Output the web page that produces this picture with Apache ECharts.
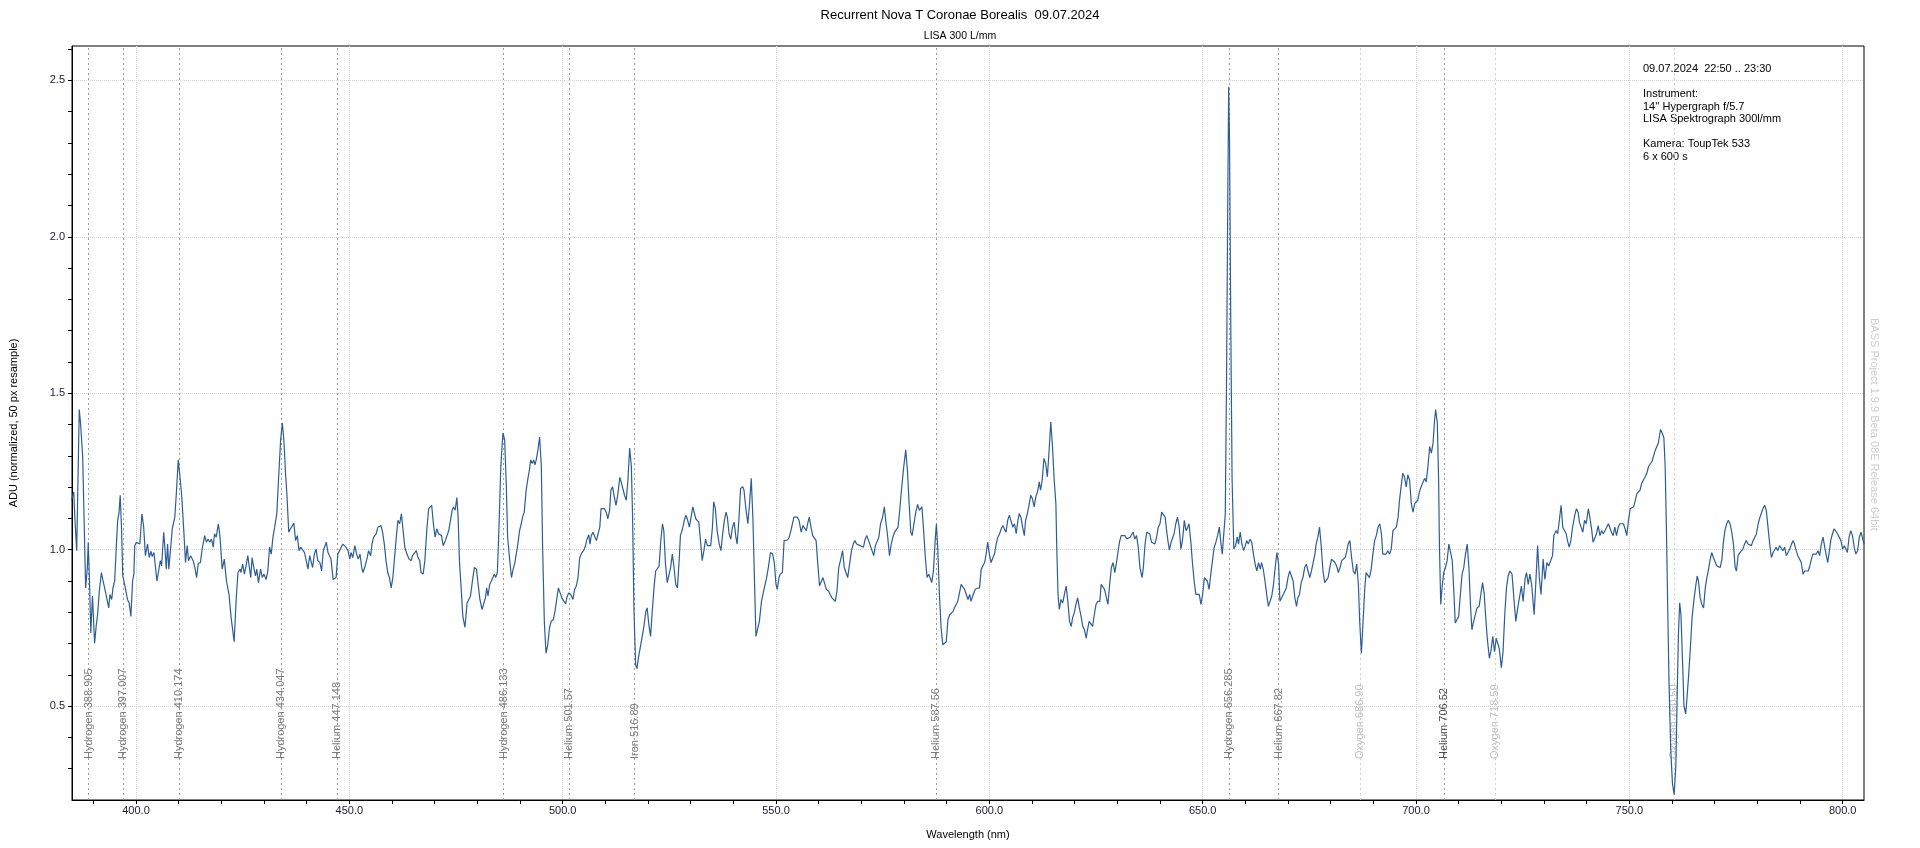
<!DOCTYPE html>
<html>
<head>
<meta charset="utf-8">
<title>Recurrent Nova T Coronae Borealis</title>
<script src="https://cdn.jsdelivr.net/npm/echarts@6/dist/echarts.min.js"></script>
<style>
  html, body { margin: 0; padding: 0; background: #fff; }
  #spectrum { width: 1920px; height: 848px; }
</style>
</head>
<body>
<div id="spectrum"></div>
<script>
// spectrum, [wavelength nm, ADU], one array per stretch
const spec385 = [
  [384.9,1.158],[385.4,1.185],[385.7,1.094],[386.1,0.997],[386.7,1.448],[387.0,1.405],[387.5,1.298],[388.2,0.878],
  [388.6,0.943],[388.8,1.024],[389.1,0.900],[389.4,0.733],[389.8,0.852],[390.3,0.701],[390.7,0.760],[391.0,0.792],
  [391.4,0.868],[391.9,0.927],[392.2,0.905],[392.5,0.911],[392.9,0.862],[393.3,0.857],[393.6,0.814],[393.9,0.857],
  [394.3,0.841],[394.6,0.878],[395.0,0.900],[395.3,0.986],[395.7,1.094],[396.0,1.115],[396.3,1.174],[396.6,1.072],
  [396.9,0.916],[397.2,0.911],[397.5,0.878],[398.0,0.841],[398.4,0.830],[398.8,0.787],[399.2,0.900],[399.5,0.922],
  [399.7,1.013],[400.1,1.024],[400.5,1.029],[400.9,1.018],[401.4,1.115],[401.8,1.072],[402.2,0.981],[402.7,1.018],
  [403.1,0.975],[403.5,0.995],[403.8,0.978],[404.2,0.991],[404.6,0.986],[404.9,0.900],[405.3,0.932],[405.7,0.965],
  [406.0,0.948],[406.5,1.056],[406.8,1.002],[407.1,0.938],[407.4,1.018],[407.7,0.938],[408.1,0.932],[408.5,1.067],
  [409.1,1.104],[409.5,1.190],[409.9,1.287],[410.3,1.233],[410.7,1.174],[411.2,1.061],[411.6,0.959],[412.0,1.013],
  [412.3,0.965],[412.8,0.981],[413.4,0.965],[413.8,0.943],[414.2,0.911],[414.6,0.956],[415.1,0.959],[415.5,1.002],
  [416.1,1.045],[416.5,1.024],[416.9,1.034],[417.3,1.024],[417.7,1.034],[418.1,1.008],[418.4,1.051],[418.8,1.040],
  [419.3,1.083],[419.7,1.040],[420.2,0.938],[420.7,0.970],[421.2,0.900],[421.8,0.857],[422.3,0.782],[423.0,0.706],
  [423.5,0.846],[423.9,0.927],[424.4,0.938],[424.6,0.927],[425.0,0.954],[425.4,0.922],[425.8,0.948],[426.2,0.981],
  [426.5,0.975],[426.9,0.911],[427.2,0.975],[427.6,0.943],[428.0,0.916],[428.3,0.938],[428.7,0.895],[429.2,0.938],
  [429.6,0.911],[430.0,0.922],[430.5,0.905],[430.9,0.932],[431.3,1.008],[431.7,0.986],[432.1,1.040],[432.5,1.072],
  [433.0,1.115],[433.4,1.223],[433.9,1.352],[434.3,1.405],[434.7,1.341],[435.0,1.255],[435.4,1.169],[435.8,1.056],
  [436.2,1.067],[436.6,1.072],[437.0,1.085],[437.4,1.029],[437.8,1.045],[438.2,0.997],[438.6,1.008],[439.0,1.013],
  [439.5,0.991],[439.9,0.986],[440.3,0.938],[440.7,0.981],[441.1,0.959],[441.4,0.943],[441.8,0.986],[442.2,1.002],
  [442.6,0.965],[443.1,0.959],[443.5,0.932],[443.9,0.997],[444.3,0.997],[444.6,1.024],[445.0,0.991],[445.3,0.986],
  [445.7,0.970],[446.2,0.905],[446.5,0.911],[446.9,0.911],[447.3,0.986],[447.7,0.997],[448.1,1.008],[448.5,1.018],
  [448.9,1.018],[449.2,1.008],[449.7,0.997],[450.1,0.970],[450.4,0.991],[450.8,0.975],[451.3,1.013],[451.7,0.986],
  [452.1,0.970],[452.5,0.986],[452.9,0.943],[453.2,0.927],[453.7,0.948],[454.2,0.975],[454.5,0.997],[455.0,0.981],
  [455.3,1.018],[455.7,1.040],[456.3,1.051],[456.7,1.072],[457.0,1.074],[457.4,1.077],[457.8,1.056],[458.2,1.018],
  [458.6,0.965],[459.0,0.927],[459.4,0.911],[459.8,0.878],[460.2,0.911],[460.6,0.975],[461.0,1.040],[461.4,1.094],
  [461.8,1.083],[462.2,1.115],[462.6,1.061],[463.0,1.008],[463.5,0.986],[464.0,0.970],[464.5,0.965],[464.8,0.981],
  [465.2,0.986],[465.7,0.997],[466.1,0.975],[466.5,0.965],[466.8,0.927],[467.3,0.922],[467.7,0.965],[468.2,1.072],
  [468.6,1.131],[469.0,1.137],[469.3,1.142]
]
const spec470 = [
  [469.7,1.083],[470.1,1.040],[470.5,1.067],[470.9,1.051],[471.3,1.053],[471.6,1.045],[472.0,1.013],[472.5,1.029],
  [472.9,1.045],[473.3,1.061],[473.7,1.067],[474.1,1.126],[474.4,1.137],[474.8,1.126],[475.2,1.167],[475.5,1.104],
  [475.8,0.965],[476.2,0.878],[476.6,0.787],[477.1,0.752],[477.6,0.830],[478.0,0.841],[478.4,0.852],[478.8,0.895],
  [479.3,0.943],[479.8,0.938],[480.1,0.900],[480.6,0.841],[481.1,0.809],[481.5,0.814],[481.9,0.846],[482.2,0.878],
  [482.5,0.852],[482.9,0.889],[483.3,0.900],[483.6,0.905],[484.0,0.922],[484.3,0.911],[484.7,0.927],[485.1,1.083],
  [485.5,1.266],[486.0,1.373],[486.4,1.352],[486.8,1.201],[487.1,1.040],[487.6,0.965],[488.0,0.911],[488.4,0.938],
  [488.8,0.959],[489.1,0.965],[489.5,1.018],[489.9,1.061],[490.3,1.083],[490.6,1.104],[491.0,1.120],[491.4,1.185],
  [491.8,1.223],[492.2,1.255],[492.5,1.287],[492.9,1.276],[493.2,1.287],[493.5,1.271],[493.8,1.287],[494.2,1.319],
  [494.6,1.360],[495.0,1.266],[495.3,1.008],[495.7,0.771],[496.1,0.669],[496.5,0.696],[496.9,0.749],[497.3,0.771],
  [497.8,0.776],[498.2,0.803],[498.6,0.841],[499.0,0.878],[499.4,0.862],[499.8,0.846],[500.3,0.835],[500.7,0.827],
  [501.0,0.848],[501.4,0.862],[501.9,0.857],[502.4,0.841],[502.8,0.873],[503.2,0.884],[503.6,0.911],[504.0,0.975],
  [504.4,0.988],[504.9,0.997],[505.3,1.010],[505.6,1.029],[506.1,1.048],[506.4,1.018],[506.7,1.045],[507.1,1.056],
  [507.5,1.061],[507.9,1.029],[508.3,1.031],[508.7,1.072],[509.0,1.131],[509.4,1.137],[509.8,1.131],[510.2,1.120],
  [510.6,1.099],[511.0,1.126],[511.3,1.190],[511.7,1.201],[512.1,1.169],[512.5,1.142],[512.9,1.174],[513.4,1.231],
  [513.8,1.212],[514.2,1.190],[514.5,1.174],[514.9,1.158],[515.3,1.223],[515.7,1.325],[516.1,1.266],[516.4,1.094],
  [516.7,0.814],[517.1,0.631],[517.4,0.620],[517.8,0.658],[518.3,0.696],[518.7,0.728],[519.1,0.760],[519.5,0.803],
  [519.8,0.814],[520.2,0.760],[520.6,0.723],[521.0,0.803],[521.4,0.878],[521.8,0.932],[522.2,0.938],[522.6,0.948],
  [523.0,1.029],[523.4,1.083],[523.7,1.061],[524.1,0.954],[524.5,0.895],[524.9,0.900],[525.3,0.943],[525.7,0.986],
  [526.1,0.943],[526.5,0.889],[526.9,0.878],[527.3,0.965],[527.6,1.045],[528.1,1.067],[528.5,1.094],[528.9,1.110],
  [529.3,1.094],[529.7,1.072],[530.1,1.072],[530.5,1.137],[530.8,1.131],[531.2,1.099],[531.6,1.104],[531.9,1.088],
  [532.3,1.029],[532.7,0.965],[533.1,0.997],[533.5,1.034],[533.9,1.013],[534.3,1.008],[534.7,1.013],[535.1,1.072],
  [535.4,1.153],[535.8,1.131],[536.2,1.061],[536.7,1.018],[537.1,0.997],[537.5,1.051],[537.9,1.094],[538.3,1.120],
  [538.6,1.104],[539.0,1.051],[539.4,1.034],[539.8,1.072],[540.2,1.088],[540.6,1.040],[540.9,1.018],[541.3,1.094],
  [541.7,1.196],[542.2,1.201],[542.5,1.190],[542.9,1.137],[543.4,1.083],[543.8,1.147],[544.2,1.228],[544.6,1.094],
  [545.0,0.878],[545.3,0.723],[545.7,0.717],[546.1,0.771],[546.6,0.835],[547.1,0.868],[547.5,0.862],[547.8,0.911],
  [548.2,0.943],[548.7,0.991],[549.2,0.986],[549.6,0.959],[550.0,0.889],[550.3,0.873],[550.7,0.911],[551.0,0.922],
  [551.5,0.927],[551.9,1.029],[552.3,1.034],[552.7,1.031],[553.1,1.040],[553.5,1.061]
]
const spec554 = [
  [554.2,1.104],[554.6,1.099],[555.0,1.104],[555.4,1.094],[555.9,1.056],[556.3,1.077],[556.7,1.072],[557.1,1.061],
  [557.5,1.088],[557.8,1.104],[558.2,1.072],[558.6,1.045],[559.0,1.051],[559.4,1.029],[559.8,0.954],[560.2,0.884],
  [560.6,0.889],[561.0,0.911],[561.3,0.911],[561.8,0.873],[562.3,0.868],[562.7,0.857],[563.1,0.846],[563.5,0.852],
  [563.9,0.835],[564.3,0.868],[564.7,0.943],[565.1,0.965],[565.6,0.997],[566.0,0.943],[566.4,0.938],[566.8,0.911],
  [567.2,0.905],[567.7,0.997],[568.1,1.018],[568.5,1.029],[568.9,1.018],[569.3,1.024],[569.7,1.013],[570.1,1.018],
  [570.5,1.008],[570.9,1.034],[571.3,1.045],[571.7,1.029],[572.1,1.013],[572.5,1.008],[572.9,0.981],[573.3,1.013],
  [573.7,1.013],[574.1,1.040],[574.5,1.083],[574.9,1.099],[575.4,1.137],[575.7,1.094],[576.1,1.051],[576.6,0.981],
  [577.0,1.018],[577.4,1.040],[577.8,1.056],[578.2,1.061],[578.6,1.072],[579.0,1.126],[579.4,1.190],[579.9,1.260],
  [580.4,1.319],[580.8,1.255],[581.2,1.147],[581.6,1.056],[581.9,1.045],[582.3,1.051],[582.7,1.115],[583.2,1.145],
  [583.6,1.126],[583.9,1.120],[584.2,1.137],[584.6,1.061],[585.0,0.975],[585.4,0.911],[585.8,0.922],[586.2,0.927],
  [586.5,0.895],[586.9,0.932],[587.3,1.029],[587.6,1.083],[587.9,1.008],[588.3,0.857],[588.7,0.749],[589.1,0.696],
  [589.5,0.690],[589.9,0.706],[590.3,0.776],[590.7,0.792],[591.1,0.798],[591.5,0.803],[591.8,0.814],[592.2,0.809],
  [592.6,0.835],[593.0,0.862],[593.4,0.889],[593.8,0.895],[594.2,0.873],[594.6,0.868],[595.0,0.841],[595.4,0.857],
  [595.7,0.835],[596.1,0.852],[596.5,0.868],[596.9,0.876],[597.3,0.870],[597.7,0.878],[598.1,0.938],[598.5,0.932],
  [598.9,0.959],[599.3,0.991],[599.6,1.024],[600.0,0.986],[600.4,0.959],[600.8,0.959],[601.2,0.986],[601.6,1.018],
  [602.0,1.040],[602.4,1.051],[602.8,1.067],[603.2,1.077],[603.5,1.067],[603.9,1.056],[604.3,1.094],[604.7,1.110],
  [605.1,1.104],[605.5,1.072],[605.9,1.083],[606.3,1.051],[606.7,1.094],[607.0,1.115],[607.4,1.104],[607.8,1.072],
  [608.2,1.045],[608.5,1.094],[608.9,1.115],[609.3,1.142],[609.7,1.174],[610.1,1.163],[610.5,1.137],[610.9,1.169],
  [611.3,1.185],[611.7,1.217],[612.0,1.190],[612.4,1.223],[612.8,1.292],[613.2,1.276],[613.6,1.233],[614.0,1.314],
  [614.4,1.408],[614.8,1.330],[615.2,1.223],[615.6,1.147],[615.8,1.008],[616.1,0.857],[616.4,0.809],[616.8,0.841],
  [617.2,0.830],[617.6,0.857],[618.0,0.884],[618.4,0.835],[618.8,0.771],[619.2,0.755],[619.5,0.782],[619.9,0.798],
  [620.3,0.825],[620.7,0.846],[621.1,0.814],[621.5,0.787],[621.9,0.755],[622.3,0.744],[622.7,0.717],[623.0,0.744],
  [623.4,0.771],[623.8,0.776],[624.2,0.755],[624.6,0.792],[625.0,0.825],[625.4,0.835],[625.9,0.835],[626.2,0.889],
  [626.6,0.895],[627.0,0.873],[627.4,0.868],[627.8,0.825],[628.2,0.889],[628.6,0.943],[629.0,0.959],[629.4,0.927],
  [629.8,0.959],[630.2,0.997],[630.5,1.024],[630.9,1.045],[631.3,1.051],[631.8,1.045],[632.2,1.034],[632.6,1.034],
  [633.0,1.040],[633.4,1.034],[633.7,1.056],[634.1,1.034],[634.5,1.045],[634.9,1.008],[635.3,0.943],[635.8,0.911],
  [636.1,0.943],[636.5,1.018],[636.9,1.056],[637.3,1.056]
]
const spec638 = [
  [637.6,1.051],[638.0,1.024],[638.4,1.018],[638.8,1.018],[639.2,1.040],[639.6,1.072],[640.0,1.083],[640.4,1.120],
  [640.8,1.126],[641.2,1.104],[641.5,1.067],[641.9,1.024],[642.2,0.999],[642.6,1.024],[643.0,1.040],[643.3,1.051],
  [643.7,1.083],[644.1,1.104],[644.5,1.072],[644.9,1.002],[645.3,1.034],[645.7,1.094],[646.1,1.061],[646.5,1.072],
  [646.8,1.083],[647.2,1.029],[647.6,0.959],[648.0,0.900],[648.4,0.857],[648.8,0.852],[649.2,0.857],[649.6,0.825],
  [650.0,0.857],[650.4,0.911],[650.7,0.905],[651.1,0.900],[651.5,0.873],[651.9,0.922],[652.3,0.965],[652.7,1.008],
  [653.1,1.024],[653.5,1.045],[653.9,1.072],[654.3,1.018],[654.6,0.986],[655.0,0.981],[655.3,1.115],[655.6,1.550],
  [655.9,2.150],[656.1,2.480],[656.3,2.300],[656.6,1.700],[656.9,1.223],[657.3,1.002],[657.7,1.013],[658.1,1.040],
  [658.4,1.018],[658.8,1.056],[659.2,1.018],[659.6,0.997],[660.0,1.013],[660.3,1.029],[660.7,1.018],[661.1,1.034],
  [661.5,1.024],[661.9,0.986],[662.3,0.954],[662.7,0.932],[663.1,0.959],[663.5,0.938],[663.8,0.959],[664.2,0.938],
  [664.6,0.900],[665.0,0.857],[665.4,0.819],[665.8,0.819],[666.2,0.852],[666.6,0.889],[667.0,0.943],[667.4,0.991],
  [667.8,0.954],[668.1,0.835],[668.5,0.830],[668.9,0.857],[669.2,0.852],[669.6,0.878],[670.0,0.911],[670.4,0.932],
  [670.8,0.938],[671.2,0.900],[671.6,0.846],[672.0,0.819],[672.3,0.846],[672.7,0.857],[673.1,0.895],[673.5,0.911],
  [673.9,0.943],[674.3,0.954],[674.7,0.932],[675.1,0.911],[675.5,0.932],[675.9,0.959],[676.3,0.986],[676.6,1.018],
  [677.0,1.040],[677.4,1.072],[677.8,1.008],[678.2,0.932],[678.6,0.895],[679.0,0.889],[679.4,0.911],[679.8,0.943],
  [680.2,0.970],[680.6,0.965],[681.0,0.959],[681.4,0.948],[681.8,0.927],[682.2,0.943],[682.6,0.965],[683.0,0.959],
  [683.4,0.975],[683.7,0.991],[684.1,1.018],[684.5,1.029],[684.9,0.975],[685.3,0.932],[685.7,0.922],[686.1,0.954],
  [686.5,0.889],[686.8,0.771],[687.2,0.669],[687.6,0.771],[688.0,0.878],[688.3,0.927],[688.7,0.922],[689.1,0.911],
  [689.5,0.938],[689.9,0.986],[690.3,1.029],[690.7,1.045],[691.1,1.072],[691.5,1.083],[691.9,1.051],[692.2,0.986],
  [692.6,0.981],[693.0,0.986],[693.4,0.997],[693.8,0.986],[694.2,1.002],[694.6,1.061],[695.0,1.067],[695.4,1.072],
  [695.8,1.104],[696.1,1.153],[696.5,1.201],[696.9,1.244],[697.3,1.233],[697.7,1.201],[698.1,1.239],[698.5,1.223],
  [698.9,1.147],[699.3,1.120],[699.7,1.147],[700.0,1.153],[700.4,1.158],[700.8,1.185],[701.2,1.201],[701.6,1.201],
  [702.0,1.228],[702.4,1.217],[702.8,1.266],[703.2,1.330],[703.6,1.309],[704.0,1.341],[704.3,1.405],[704.6,1.448],
  [705.0,1.405],[705.3,1.223],[705.5,1.008],[705.8,0.825],[706.1,0.878],[706.5,0.927],[706.9,0.943],[707.3,0.965],
  [707.7,1.018],[708.1,1.018],[708.5,0.965],[708.9,0.857],[709.2,0.766],[709.6,0.760],[710.0,0.787],[710.4,0.857],
  [710.8,0.922],[711.2,0.943],[711.6,0.986],[712.0,1.018],[712.4,0.943],[712.8,0.814],[713.1,0.744],[713.5,0.771],
  [713.9,0.792],[714.3,0.814],[714.8,0.819],[715.2,0.857],[715.6,0.895],[716.0,0.857],[716.3,0.792],[716.7,0.717],
  [717.2,0.653],[717.6,0.680],[718.0,0.723],[718.4,0.674],[718.8,0.717],[719.1,0.723],[719.5,0.685],[720.0,0.623],
  [720.4,0.674],[720.8,0.792],[721.2,0.878],[721.6,0.916],[722.0,0.932]
]
const spec722 = [
  [722.5,0.922],[723.0,0.835],[723.4,0.771],[723.9,0.819],[724.3,0.825],[724.7,0.884],[725.1,0.835],[725.6,0.911],
  [725.9,0.927],[726.3,0.889],[726.7,0.922],[727.1,0.889],[727.7,0.792],[728.1,0.900],[728.5,1.013],[728.9,0.911],
  [729.3,0.857],[729.8,0.970],[730.2,0.905],[730.7,0.959],[731.1,0.948],[731.5,0.948],[732.0,0.981],[732.3,1.045],
  [732.8,1.061],[733.2,1.051],[733.6,1.094],[734.0,1.142],[734.4,1.072],[734.8,1.067],[735.2,1.051],[735.5,1.029],
  [735.9,1.008],[736.3,1.029],[736.7,1.072],[737.2,1.110],[737.6,1.131],[738.0,1.120],[738.3,1.088],[738.7,1.072],
  [739.1,1.056],[739.5,1.094],[739.9,1.083],[740.4,1.131],[740.8,1.099],[741.2,1.061],[741.5,1.024],[741.9,1.029],
  [742.3,1.051],[742.7,1.077],[743.1,1.045],[743.5,1.061],[743.9,1.051],[744.3,1.056],[744.7,1.072],[745.1,1.083],
  [745.4,1.072],[745.8,1.056],[746.2,1.045],[746.6,1.072],[747.0,1.045],[747.4,1.072],[747.8,1.083],[748.2,1.077],
  [748.6,1.083],[749.0,1.067],[749.4,1.045],[749.8,1.094],[750.2,1.131],[750.6,1.131],[751.0,1.137],[751.4,1.158],
  [751.8,1.180],[752.2,1.185],[752.5,1.190],[752.9,1.212],[753.3,1.223],[753.7,1.233],[754.1,1.244],[754.5,1.266],
  [754.9,1.271],[755.3,1.282],[755.7,1.287],[756.1,1.319],[756.4,1.325],[756.8,1.341],[757.3,1.384],[757.7,1.373],
  [758.1,1.357],[758.4,1.266],[758.7,1.061],[759.0,0.814],[759.3,0.577],[759.7,0.362],[760.1,0.254],[760.5,0.217],
  [760.9,0.309],[761.2,0.523],[761.5,0.728],[761.8,0.830],[762.1,0.792],[762.5,0.631],[762.8,0.502],[763.2,0.475],
  [763.5,0.523],[763.9,0.599],[764.3,0.685],[764.7,0.782],[765.1,0.835],[765.5,0.878],[765.9,0.916],[766.2,0.900],
  [766.6,0.846],[767.0,0.825],[767.4,0.814],[767.8,0.878],[768.1,0.905],[768.5,0.932],[768.9,0.965],[769.3,0.991],
  [769.7,0.975],[770.1,0.981],[770.5,0.948],[770.9,0.948],[771.3,0.943],[771.7,0.970],[772.0,1.018],[772.4,1.061],
  [772.8,1.083],[773.2,1.094],[773.6,1.083],[774.0,1.056],[774.4,1.018],[774.8,0.943],[775.1,0.932],[775.5,0.981],
  [775.9,0.991],[776.3,0.997],[776.6,1.002],[777.0,1.018],[777.4,1.029],[777.8,1.018],[778.2,1.024],[778.6,1.013],
  [779.0,1.029],[779.4,1.040],[779.8,1.051],[780.2,1.083],[780.5,1.099],[780.9,1.115],[781.3,1.131],[781.7,1.142],
  [782.1,1.126],[782.5,1.072],[782.9,1.018],[783.3,0.975],[783.7,0.991],[784.1,0.986],[784.4,1.008],[784.8,0.997],
  [785.2,1.013],[785.6,1.018],[786.0,0.997],[786.4,1.008],[786.8,0.981],[787.2,0.981],[787.6,1.002],[788.0,1.018],
  [788.4,1.029],[788.7,1.018],[789.1,0.997],[789.5,0.981],[789.9,0.975],[790.3,0.959],[790.7,0.922],[791.1,0.932],
  [791.5,0.927],[791.9,0.932],[792.2,0.943],[792.6,0.965],[793.0,0.986],[793.4,0.981],[793.8,0.986],[794.2,0.997],
  [794.6,0.981],[795.0,1.018],[795.4,1.040],[795.8,1.008],[796.1,0.986],[796.5,0.959],[796.9,0.997],[797.2,1.029],
  [797.6,1.051],[798.0,1.067],[798.4,1.061],[798.8,1.051],[799.2,1.045],[799.6,1.029],[800.0,1.002],[800.4,1.013],
  [800.7,1.013],[801.1,0.991],[801.5,1.040],[801.9,1.061],[802.3,1.045],[802.7,1.008],[803.1,0.986],[803.5,0.997],
  [803.9,1.040],[804.3,1.056],[804.6,1.040],[805.0,1.018]
]

// identified lines
const lineNames = ['Hydrogen 388.905', 'Hydrogen 397.007', 'Hydrogen 410.174', 'Hydrogen 434.047', 'Helium 447.148',
  'Hydrogen 486.133', 'Helium 501.57', 'Iron 516.89', 'Helium 587.56', 'Hydrogen 656.285', 'Helium 667.82',
  'Oxygen 686.90', 'Helium 706.52', 'Oxygen 718.59', 'Oxygen 760.50']
const lineWl = [388.905, 397.007, 410.174, 434.047, 447.148, 486.133, 501.57, 516.89, 587.56, 656.285, 667.82,
  686.90, 706.52, 718.59, 760.50]
const faintLines = ['Oxygen 686.90', 'Oxygen 718.59', 'Oxygen 760.50']

const xLabels = [400, 450, 500, 550, 600, 650, 700, 750, 800]
const xTicks = [390, 400, 410, 420, 430, 440, 450, 460, 470, 480, 490, 500, 510, 520, 530, 540, 550, 560, 570, 580,
  590, 600, 610, 620, 630, 640, 650, 660, 670, 680, 690, 700, 710, 720, 730, 740, 750, 760, 770, 780, 790, 800]
const yLabels = [0.5, 1.0, 1.5, 2.0, 2.5]
const yTicks = [0.3, 0.4, 0.5, 0.6, 0.7, 0.8, 0.9, 1.0, 1.1, 1.2, 1.3, 1.4, 1.5, 1.6, 1.7, 1.8, 1.9, 2.0, 2.1, 2.2,
  2.3, 2.4, 2.5, 2.6]

const infoText = '09.07.2024  22:50 .. 23:30\n\nInstrument:\n14\'\' Hypergraph f/5.7\nLISA Spektrograph 300l/mm\n\nKamera: ToupTek 533\n6 x 600 s'

const font = 'Liberation Sans'
const spectrum = [].concat(spec385, spec470, spec554, spec638, spec722)
const xRange = { min: 385, max: 805 }
const yRange = { min: 0.2, max: 2.61 }
const gridLine = { show: true, lineStyle: { color: '#d4d4d4', type: 'dotted', width: 1 } }

const markers = lineNames.map((name, i) => {
  const faint = faintLines.includes(name)
  const strong = name === 'Helium 706.52'
  return {
    xAxis: lineWl[i],
    lineStyle: { color: faint ? '#cfcfcf' : '#9d9d9d' },
    label: { formatter: name, color: faint ? '#bfbfbf' : (strong ? '#4d4d4d' : '#7b7b7b') }
  }
})

// a hidden twin of each axis only draws the dotted grid at the labelled values
const gridTwin = (values) => ({
  type: 'value',
  axisLine: { show: false },
  axisTick: { show: false, customValues: values },
  axisLabel: { show: false, customValues: values },
  splitLine: gridLine
})

const chart = echarts.init(document.getElementById('spectrum'), null, { renderer: 'canvas' })
chart.setOption({
  animation: false,
  backgroundColor: '#fff',
  textStyle: { fontFamily: font },
  title: [
    {
      text: 'Recurrent Nova T Coronae Borealis  09.07.2024',
      left: 'center', top: 9, padding: 0,
      textStyle: { fontSize: 13, fontWeight: 'normal', color: '#000', fontFamily: font }
    },
    {
      text: 'LISA 300 L/mm',
      left: 'center', top: 31, padding: 0,
      textStyle: { fontSize: 10.5, fontWeight: 'normal', color: '#000', fontFamily: font }
    }
  ],
  grid: {
    left: 70, right: 56, top: 46, bottom: 48,
    show: true, borderColor: '#000', borderWidth: 1
  },
  xAxis: [
    {
      type: 'value',
      ...xRange,
      position: 'bottom',
      name: 'Wavelength (nm)',
      nameLocation: 'middle',
      nameGap: 29,
      nameTextStyle: { fontSize: 11, color: '#000', fontFamily: font },
      axisLine: { lineStyle: { color: '#000', width: 1 } },
      axisTick: { customValues: xTicks, length: 4, lineStyle: { color: '#000' } },
      axisLabel: {
        customValues: xLabels, margin: 5, fontSize: 11, color: '#1b1b2b', fontFamily: font,
        formatter: v => v.toFixed(1)
      },
      splitLine: { show: false }
    },
    Object.assign(gridTwin(xLabels), xRange, { position: 'top' })
  ],
  yAxis: [
    {
      type: 'value',
      ...yRange,
      position: 'left',
      name: 'ADU (normalized, 50 px resample)',
      nameLocation: 'middle',
      nameGap: 53,
      nameTextStyle: { fontSize: 11, color: '#000', fontFamily: font },
      axisLine: { show: true, lineStyle: { color: '#000', width: 1 } },
      axisTick: { show: true, customValues: yTicks, length: 4, lineStyle: { color: '#000' } },
      axisLabel: {
        customValues: yLabels, margin: 7, fontSize: 11, color: '#1b1b2b', fontFamily: font,
        formatter: v => v.toFixed(1)
      },
      splitLine: { show: false }
    },
    Object.assign(gridTwin(yLabels), yRange, { position: 'right' })
  ],
  series: [
    {
      name: 'T CrB',
      type: 'line',
      xAxisIndex: 0,
      yAxisIndex: 0,
      data: spectrum,
      showSymbol: false,
      symbol: 'none',
      clip: true,
      lineStyle: { color: '#2d5d95', width: 1.2 },
      z: 3,
      markLine: {
        silent: true,
        symbol: ['none', 'none'],
        animation: false,
        z: 1,
        lineStyle: { type: [2, 3], width: 1 },
        label: { position: 'insideStart', distance: [41, 0], fontSize: 11, fontFamily: font },
        data: markers
      }
    }
  ],
  graphic: [
    {
      type: 'text',
      x: 1643, y: 63,
      style: { text: infoText, font: '11px ' + font, fill: '#000', lineHeight: 12.5 }
    },
    {
      type: 'text',
      x: 1874, y: 318,
      rotation: -Math.PI / 2,
      style: {
        text: 'BASS Project 1.9.9 Beta 08E Release 64bit',
        font: '11px ' + font, fill: '#cdcdcd', align: 'left', verticalAlign: 'middle'
      }
    }
  ]
})
</script>
</body>
</html>
